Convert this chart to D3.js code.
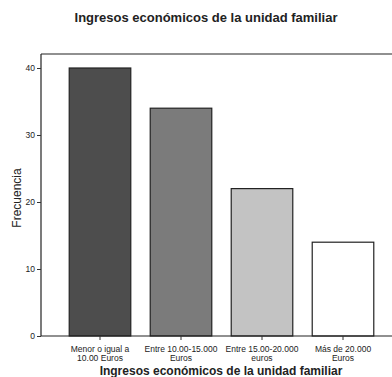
<!DOCTYPE html>
<html>
<head>
<meta charset="utf-8">
<script src="https://cdn.jsdelivr.net/npm/d3@7"></script>
<style>
  html, body { margin: 0; padding: 0; background: #fff; }
  svg { display: block; }
  text { font-family: "Liberation Sans", Arial, sans-serif; fill: #222; }
</style>
</head>
<body>
<svg id="chart" width="392" height="377"></svg>
<script>
// Income brackets and their frequencies
const categories = [
  ["Menor o igual a", "10.00 Euros"],
  ["Entre 10.00-15.000", "Euros"],
  ["Entre 15.00-20.000", "euros"],
  ["Más de 20.000", "Euros"]
];
const frequencies = [40, 34, 22, 14];
const barColors = ["#4d4d4d", "#7b7b7b", "#c3c3c3", "#ffffff"];
const yTicks = [0, 10, 20, 30, 40];

const svg = d3.select("#chart");
const plot = { left: 41, right: 392, top: 54, bottom: 336 };

const y = d3.scaleLinear().domain([0, 40]).range([plot.bottom, 68]);
const x = d3.scaleBand()
  .domain(d3.range(categories.length))
  .range([59.5, 383.5])
  .paddingInner(0.24)
  .paddingOuter(0.12);

// Title
svg.append("text")
  .attr("x", 206).attr("y", 22)
  .attr("text-anchor", "middle")
  .style("font-size", "13px").style("font-weight", "bold")
  .text("Ingresos económicos de la unidad familiar");

// Plot frame (top line)
svg.append("line")
  .attr("x1", plot.left).attr("x2", plot.right)
  .attr("y1", plot.top).attr("y2", plot.top)
  .attr("stroke", "#222").attr("stroke-width", 1.2);

// Bars
svg.append("g").selectAll("rect")
  .data(frequencies)
  .join("rect")
  .attr("x", (d, i) => x(i))
  .attr("y", d => y(d))
  .attr("width", x.bandwidth())
  .attr("height", d => y(0) - y(d))
  .attr("fill", (d, i) => barColors[i])
  .attr("stroke", "#222")
  .attr("stroke-width", 1.2);

// Y axis
const yAxis = svg.append("g")
  .attr("transform", `translate(${plot.left},0)`)
  .call(d3.axisLeft(y).tickValues(yTicks).tickSize(4).tickPadding(2).tickSizeOuter(0));
yAxis.select(".domain").attr("d", `M0,${plot.top}V${plot.bottom}`).attr("stroke", "#222").attr("stroke-width", 1.2);
yAxis.selectAll("text").style("font-size", "8.5px").style("font-family", "Liberation Sans, Arial, sans-serif").attr("fill", "#333");
yAxis.selectAll(".tick line").attr("stroke", "#333");

// X axis
const xAxis = svg.append("g")
  .attr("transform", `translate(0,${plot.bottom})`)
  .call(d3.axisBottom(x).tickSize(4).tickFormat("").tickSizeOuter(0));
xAxis.select(".domain").attr("d", `M${plot.left},0H${plot.right}`).attr("stroke", "#222").attr("stroke-width", 1.2);
xAxis.selectAll(".tick line").attr("stroke", "#333");

// Category labels (two lines each)
const catLabels = svg.append("g").selectAll("text")
  .data(categories)
  .join("text")
  .attr("x", (d, i) => x(i) + x.bandwidth() / 2)
  .attr("y", 352)
  .attr("text-anchor", "middle")
  .style("font-size", "8.5px")
  .attr("fill", "#333");
catLabels.selectAll("tspan")
  .data(d => d)
  .join("tspan")
  .attr("x", function () { return d3.select(this.parentNode).attr("x"); })
  .attr("dy", (d, i) => i === 0 ? 0 : 8.5)
  .text(d => d);

// X axis title
svg.append("text")
  .attr("x", 221).attr("y", 375)
  .attr("text-anchor", "middle")
  .style("font-size", "12px").style("font-weight", "bold")
  .text("Ingresos económicos de la unidad familiar");

// Y axis title
svg.append("text")
  .attr("transform", "translate(21,198) rotate(-90)")
  .attr("text-anchor", "middle")
  .style("font-size", "12px")
  .text("Frecuencia");
</script>
</body>
</html>
